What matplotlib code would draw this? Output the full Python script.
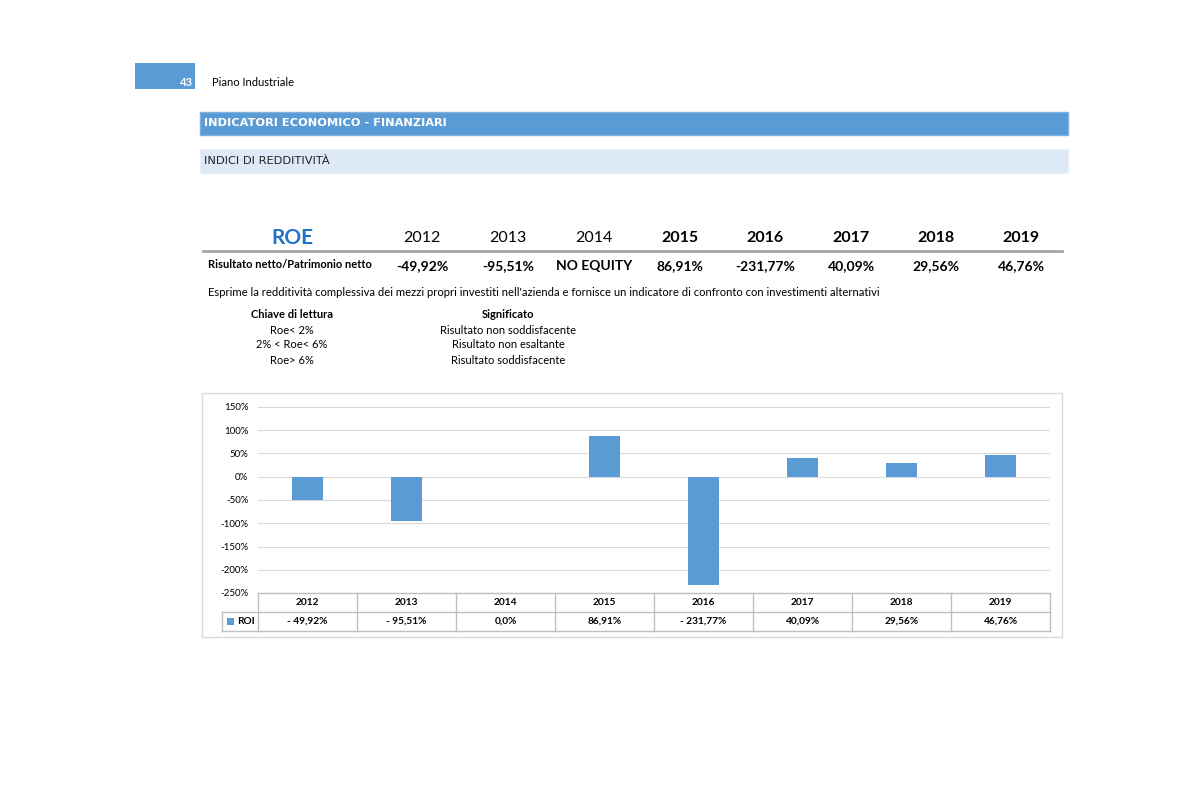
import matplotlib
matplotlib.use("Agg")
import matplotlib.pyplot as plt
from matplotlib.patches import Rectangle
from matplotlib.lines import Line2D

years = ["2012", "2013", "2014", "2015", "2016", "2017", "2018", "2019"]
roe_values = [-49.92, -95.51, 0.0, 86.91, -231.77, 40.09, 29.56, 46.76]
roe_labels = ["-49,92%", "-95,51%", "NO EQUITY", "86,91%", "-231,77%", "40,09%", "29,56%", "46,76%"]
table_labels = ["- 49,92%", "- 95,51%", "0,0%", "86,91%", "- 231,77%", "40,09%", "29,56%", "46,76%"]
yticks = [150, 100, 50, 0, -50, -100, -150, -200, -250]
key_rows = ["Roe< 2%", "2% < Roe< 6%", "Roe> 6%"]
meaning_rows = ["Risultato non soddisfacente", "Risultato non esaltante", "Risultato soddisfacente"]

W, H = 1193, 800
BLUE = "#5b9bd5"
plt.rcParams['font.family'] = ['Lato', 'DejaVu Sans']

fig = plt.figure(figsize=(W / 100, H / 100), dpi=100)
ov = fig.add_axes([0, 0, 1, 1])
ov.set_xlim(0, W)
ov.set_ylim(H, 0)
ov.axis("off")

def T(x, y, s, **kw):
    kw.setdefault("va", "center")
    ov.text(x, y, s, **kw)

# page header
ov.add_patch(Rectangle((135, 63), 60, 26, color=BLUE, lw=0))
T(193, 83, "43", color="white", fontsize=8, ha="right", fontweight="bold")
T(212, 83, "Piano Industriale", color="black", fontsize=8)

ov.add_patch(Rectangle((200, 112), 868, 23, facecolor=BLUE, edgecolor="#7fb0de", lw=1))
T(204, 123.5, "INDICATORI ECONOMICO - FINANZIARI", color="white", fontsize=8.2,
  fontweight="bold", family=["DejaVu Sans"])
ov.add_patch(Rectangle((200, 149), 868, 24, facecolor="#dde9f6", edgecolor="#e8f0f9", lw=1))
T(204, 161, "INDICI DI REDDITIVITÀ", color="#222222", fontsize=8.2,
  family=["DejaVu Sans"])

# ROE table
T(292, 238, "ROE", color="#1f74c8", fontsize=15, fontweight="bold", ha="center")
xs_top = [422, 508, 594, 680, 765, 851, 936, 1021]
for i, (x, y, lab) in enumerate(zip(xs_top, years, roe_labels)):
    T(x, 238, y, fontsize=11.5, ha="center", fontweight="bold" if i >= 3 else "normal")
    T(x, 266, lab, fontsize=10, ha="center", fontweight="bold")
ov.add_line(Line2D([203, 1062], [251, 251], color="#a6a6a6", lw=2))
T(208, 264, "Risultato netto/Patrimonio netto", fontsize=8, fontweight="bold")
T(208, 292, "Esprime la redditività complessiva dei mezzi propri investiti nell'azienda e fornisce un indicatore di confronto con investimenti alternativi", fontsize=8.1)
T(292, 315, "Chiave di lettura", fontsize=8, fontweight="bold", ha="center")
T(508, 315, "Significato", fontsize=8, fontweight="bold", ha="center")
for j, (k, m) in enumerate(zip(key_rows, meaning_rows)):
    T(292, 330 + 15 * j, k, fontsize=8, ha="center")
    T(508, 330 + 15 * j, m, fontsize=8, ha="center")

# chart frame
ov.add_patch(Rectangle((202, 393), 860, 244, facecolor="none", edgecolor="#d9d9d9", lw=1))

L, R, TOP, BOT = 258, 1050, 407, 593
ax = fig.add_axes([L / W, 1 - BOT / H, (R - L) / W, (BOT - TOP) / H])
ax.patch.set_alpha(0)
n = len(years)
ax.bar(range(n), roe_values, width=0.31, color=BLUE, zorder=3)
ax.set_xlim(-0.5, n - 0.5)
ax.set_ylim(-250, 150)
ax.set_yticks(yticks)
ax.set_yticklabels([f"{v}%" for v in yticks], fontsize=7)
ax.tick_params(axis="y", length=0, pad=7)
ax.set_xticks([])
for sp in ax.spines.values():
    sp.set_visible(False)
ax.grid(axis="y", color="#d9d9d9", lw=0.8, zorder=0)

# data table
cw = (R - L) / n
r0, r1, r2 = 593, 612, 631
gc = "#bfbfbf"
ov.add_line(Line2D([L, R], [r0, r0], color=gc, lw=1))
ov.add_line(Line2D([222, R], [r1, r1], color=gc, lw=1))
ov.add_line(Line2D([222, R], [r2, r2], color=gc, lw=1))
ov.add_line(Line2D([222, 222], [r1, r2], color=gc, lw=1))
for i in range(n + 1):
    x = L + i * cw
    ov.add_line(Line2D([x, x], [r0, r2], color=gc, lw=1))
for i in range(n):
    cx = L + (i + 0.5) * cw
    T(cx, (r0 + r1) / 2, years[i], fontsize=7.3, ha="center", fontweight="bold")
    T(cx, (r1 + r2) / 2, table_labels[i], fontsize=7.3, ha="center", fontweight="bold")
ov.add_patch(Rectangle((227, 618), 7, 7, color=BLUE, lw=0))
T(237, 621.5, "ROI", fontsize=7.3, fontweight="bold")

fig.savefig("out.png", dpi=100)
